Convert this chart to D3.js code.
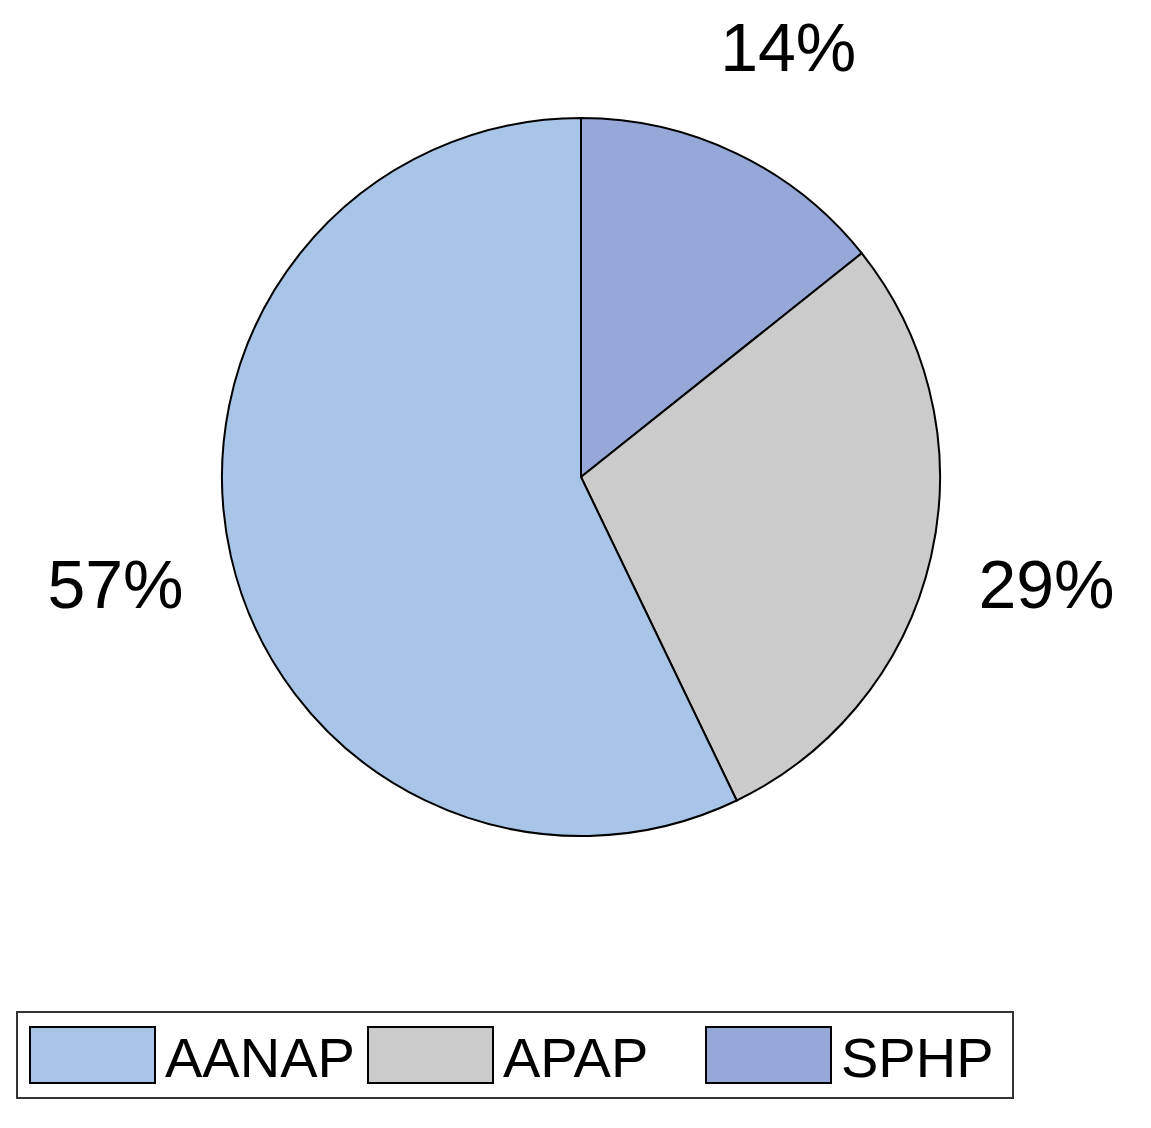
<!DOCTYPE html>
<html><head><meta charset="utf-8">
<script src="https://cdn.jsdelivr.net/npm/d3@7"></script>
<style>body{margin:0;background:#fff}</style>
</head><body>
<script>
// pie slices, drawn clockwise from 12 o'clock
const categories = ["SPHP", "APAP", "AANAP"];
const values = [14.29, 28.57, 57.14];
const labels = ["14%", "29%", "57%"];
const legendOrder = ["AANAP", "APAP", "SPHP"];
const colors = {AANAP: "#a8c4e6", APAP: "#cbcbcb", SPHP: "#95a8d8"};

const W = 1151, H = 1128;
const svg = d3.select("body").append("svg").attr("width", W).attr("height", H)
    .style("font-family", "'Liberation Sans', Arial, sans-serif");

const cx = 581, cy = 477, r = 359;
const pie = d3.pie().sort(null).value(d => d.v);
const data = pie(categories.map((c, i) => ({c, v: values[i], l: labels[i]})));
const arc = d3.arc().innerRadius(0).outerRadius(r);

const g = svg.append("g").attr("transform", `translate(${cx},${cy})`);
g.selectAll("path").data(data).join("path")
    .attr("d", arc)
    .attr("fill", d => colors[d.data.c])
    .attr("stroke", "#000").attr("stroke-width", 2);

// label positions along the bisector, outside the rim
const labelArc = d3.arc().innerRadius(r * 1.33).outerRadius(r * 1.33);
g.selectAll("text").data(data).join("text")
    .attr("transform", d => {
        const [x, y] = labelArc.centroid(d);
        return `translate(${x},${y})`;
    })
    .attr("text-anchor", "middle").attr("dy", "0.36em")
    .attr("font-size", 68)
    .text(d => d.data.l);

// legend
const lg = svg.append("g");
lg.append("rect").attr("x", 17).attr("y", 1012).attr("width", 996).attr("height", 86)
    .attr("fill", "#fff").attr("stroke", "#333").attr("stroke-width", 2);
const xs = d3.scalePoint().domain(legendOrder).range([30, 706]);
legendOrder.forEach(c => {
    lg.append("rect").attr("x", xs(c)).attr("y", 1027).attr("width", 125).attr("height", 56)
        .attr("fill", colors[c]).attr("stroke", "#000").attr("stroke-width", 2);
    lg.append("text").attr("x", xs(c) + 135).attr("y", 1077)
        .attr("font-size", 56).text(c);
});
</script>
</body></html>
